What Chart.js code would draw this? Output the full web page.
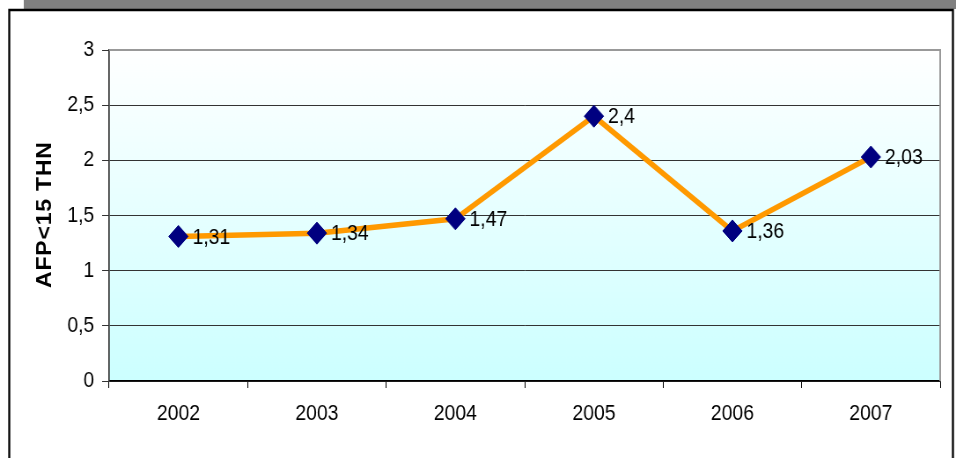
<!DOCTYPE html>
<html>
<head>
<meta charset="utf-8">
<script src="https://cdn.jsdelivr.net/npm/chart.js@4/dist/chart.umd.min.js"></script>
<style>
  html, body { margin: 0; padding: 0; background: #fff; overflow: hidden; width: 956px; height: 458px; }
  /* el original está comprimido en horizontal: dibujamos más ancho y escalamos */
  #wrap { width: 1086px; height: 458px; position: relative; transform: scaleX(0.8803); transform-origin: 0 0; }
</style>
</head>
<body>
<div id="wrap"><canvas id="grafico"></canvas></div>
<script>
// Datos del gráfico
const anios = ["2002", "2003", "2004", "2005", "2006", "2007"];
const valoresAFP = [1.31, 1.34, 1.47, 2.4, 1.36, 2.03];
const tituloEjeY = "AFP<15 THN";

const fuente = "'Liberation Sans', Arial, sans-serif";

// Formato con coma decimal
function conComa(v) {
    return String(v).replace(".", ",");
}

// Marco, banda gris y fondo degradado del área
const pluginFondo = {
    id: "fondo",
    beforeDraw(chart) {
        const ctx = chart.ctx;
        const a = chart.chartArea;
        ctx.save();
        // banda gris superior
        ctx.fillStyle = "#808080";
        ctx.fillRect(27, 0, chart.width - 27, 9);
        // marco negro
        ctx.strokeStyle = "#000";
        ctx.lineWidth = 2.3;
        ctx.beginPath();
        ctx.moveTo(10.5, chart.height);
        ctx.lineTo(10.5, 10);
        ctx.lineTo(1082.5, 10);
        ctx.lineTo(1082.5, chart.height);
        ctx.stroke();
        // degradado del área de trazado
        const g = ctx.createLinearGradient(0, a.top, 0, a.bottom);
        g.addColorStop(0, "#ffffff");
        g.addColorStop(1, "#ccffff");
        ctx.fillStyle = g;
        ctx.fillRect(a.left, a.top, a.right - a.left, a.bottom - a.top);
        ctx.restore();
    },
    beforeDatasetsDraw(chart) {
        // borde gris arriba y a la derecha
        const ctx = chart.ctx;
        const a = chart.chartArea;
        ctx.save();
        ctx.strokeStyle = "#999";
        ctx.lineWidth = 2;
        ctx.beginPath();
        ctx.moveTo(a.left, a.top);
        ctx.lineTo(a.right, a.top);
        ctx.lineTo(a.right, a.bottom);
        ctx.stroke();
        ctx.restore();
    },
    afterDraw(chart) {
        // título del eje Y, letra por letra con un poco de espacio
        const ctx = chart.ctx;
        const esp = 0.8;
        ctx.save();
        ctx.font = "bold 23px " + fuente;
        ctx.fillStyle = "#000";
        ctx.textAlign = "left";
        ctx.textBaseline = "middle";
        const letras = tituloEjeY.split("");
        const total = letras.reduce((s, c) => s + ctx.measureText(c).width + esp, -esp);
        ctx.translate(52, 215);
        ctx.rotate(-Math.PI / 2);
        let x = -total / 2;
        letras.forEach((c) => {
            ctx.fillText(c, x, 0);
            x += ctx.measureText(c).width + esp;
        });
        ctx.restore();
    }
};

// Etiquetas de valores a la derecha de cada punto
const pluginEtiquetas = {
    id: "etiquetas",
    afterDatasetsDraw(chart) {
        const ctx = chart.ctx;
        const meta = chart.getDatasetMeta(0);
        ctx.save();
        ctx.font = "22px " + fuente;
        ctx.fillStyle = "#000";
        ctx.textAlign = "left";
        ctx.textBaseline = "middle";
        meta.data.forEach((p, i) => {
            ctx.fillText(conComa(valoresAFP[i]), p.x + 16, p.y + 1);
        });
        ctx.restore();
    }
};

const ctx = document.getElementById("grafico").getContext("2d");
new Chart(ctx, {
    type: "line",
    data: {
        labels: anios,
        datasets: [
            {
                data: valoresAFP,
                borderColor: "#ff9900",
                borderWidth: 5.5,
                tension: 0,
                pointStyle: "rectRot",
                pointRadius: 11,
                pointHoverRadius: 11,
                pointBackgroundColor: "#000080",
                pointBorderColor: "#000080",
                pointBorderWidth: 1,
            },
        ],
    },
    options: {
        responsive: true,
        maintainAspectRatio: false,
        animation: false,
        layout: { padding: { left: 0, top: 50, right: 18, bottom: 0 } },
        plugins: {
            legend: { display: false },
            tooltip: { enabled: false },
        },
        scales: {
            x: {
                offset: true,
                afterFit(s) { s.height = 77; },
                grid: {
                    offset: true,
                    drawOnChartArea: false,
                    tickLength: 7,
                    color: "#000",
                },
                border: { color: "#000", width: 1.5 },
                ticks: {
                    color: "#000",
                    padding: 13,
                    font: { family: fuente, size: 22 },
                },
            },
            y: {
                min: 0,
                max: 3,
                afterFit(s) { s.width = 124; },
                grid: {
                    color: (c) => (c.tick && c.tick.value === 3 ? "rgba(0,0,0,0)" : "#333"),
                    tickColor: "#333",
                    tickLength: 8,
                    lineWidth: 1,
                },
                border: { color: "#333", width: 1.7 },
                ticks: {
                    stepSize: 0.5,
                    color: "#000",
                    padding: 9,
                    font: { family: fuente, size: 22 },
                    callback: (v) => conComa(v),
                },
            },
        },
    },
    plugins: [pluginFondo, pluginEtiquetas],
});
</script>
</body>
</html>
